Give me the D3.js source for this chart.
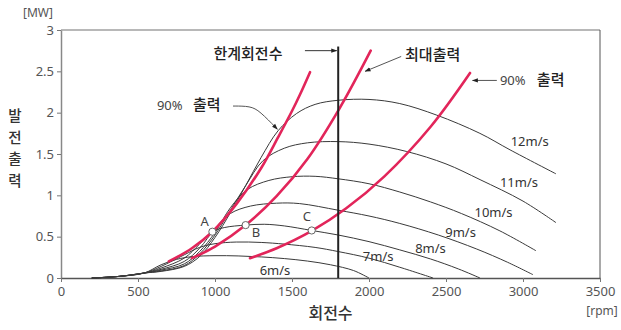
<!DOCTYPE html>
<html>
<head>
<meta charset="utf-8">
<script src="https://cdn.jsdelivr.net/npm/d3@7"></script>
<style>
  html, body { margin: 0; padding: 0; background: #fff; }
  svg { display: block; font-family: "Noto Sans CJK KR", "Noto Sans", sans-serif; }
  .latin { font-family: "Noto Sans", "DejaVu Sans", sans-serif; }
</style>
</head>
<body>
<svg id="chart" width="621" height="330"></svg>
<script>
// Axis ticks
const rpmTicks = [0, 500, 1000, 1500, 2000, 2500, 3000, 3500];
const mwTicks = [0, 0.5, 1, 1.5, 2, 2.5, 3];
const mwTickLabels = ["0", "0.5", "1", "1.5", "2", "2.5", "3"];

// Power vs. rotor speed, one curve per wind speed: [rpm, MW]
const windLabels = ["6m/s", "7m/s", "8m/s", "9m/s", "10m/s", "11m/s", "12m/s"];
const curve6 = [[200,0],[380,0.02],[540,0.06],[650,0.16],[750,0.225],[850,0.258],[1000,0.27],[1150,0.267],[1300,0.255],[1450,0.235],[1600,0.205],[1750,0.16],[1900,0.09],[2000,0]];
const curve7 = [[200,0],[380,0.02],[540,0.06],[650,0.14],[800,0.28],[900,0.37],[1000,0.415],[1138,0.435],[1300,0.43],[1450,0.41],[1650,0.37],[1800,0.32],[2000,0.24],[2200,0.13],[2416,0]];
const curve8 = [[200,0],[380,0.02],[540,0.06],[650,0.12],[800,0.24],[900,0.41],[983,0.56],[1060,0.61],[1199,0.64],[1320,0.65],[1450,0.63],[1628,0.575],[1800,0.52],[2000,0.44],[2200,0.34],[2400,0.23],[2580,0.11],[2721,0]];
const curve9 = [[200,0],[380,0.02],[540,0.06],[650,0.105],[800,0.2],[900,0.36],[1000,0.6],[1100,0.78],[1230,0.87],[1400,0.905],[1550,0.9],[1800,0.82],[2000,0.75],[2200,0.66],[2450,0.52],[2700,0.35],[2900,0.19],[3065,0.04]];
const curve10 = [[200,0],[380,0.02],[540,0.06],[650,0.095],[800,0.17],[900,0.32],[1000,0.55],[1100,0.85],[1210,1.07],[1350,1.18],[1500,1.225],[1650,1.23],[1800,1.2],[2000,1.14],[2200,1.04],[2400,0.92],[2600,0.78],[2850,0.57],[3084,0.33]];
const curve11 = [[200,0],[380,0.02],[540,0.06],[650,0.085],[800,0.15],[900,0.29],[1000,0.52],[1100,0.82],[1200,1.12],[1312,1.42],[1450,1.57],[1600,1.635],[1800,1.65],[2000,1.62],[2245,1.53],[2500,1.38],[2721,1.19],[3000,0.93],[3214,0.67]];
const curve12 = [[200,0],[380,0.02],[540,0.06],[650,0.08],[800,0.14],[900,0.26],[1000,0.49],[1100,0.79],[1200,1.12],[1300,1.46],[1409,1.78],[1530,1.99],[1650,2.1],[1800,2.15],[2000,2.16],[2200,2.11],[2440,1.97],[2720,1.75],[2916,1.55],[3214,1.26]];

// Operating loci: 90 % power (low side), maximum power, 90 % power (high side)
const left90 = [[700,0.2],[850,0.36],[983,0.56],[1141,0.9],[1303,1.34],[1409,1.7],[1500,2.02],[1552,2.22],[1617,2.49]];
const maxPower = [[850,0.24],[1000,0.38],[1199,0.64],[1400,0.99],[1600,1.44],[1808,2.05],[2011,2.75]];
const right90 = [[1227,0.24],[1400,0.36],[1628,0.57],[1850,0.84],[2100,1.23],[2400,1.83],[2656,2.48]];

// Marked operating points
const pointNames = ["A", "B", "C"];
const pointRpm = [983, 1199, 1628];
const pointMw = [0.56, 0.64, 0.575];

// Rotor speed limit
const limitRpm = 1800;

const svg = d3.select("#chart");
const x = d3.scaleLinear().domain([0, 3500]).range([61, 600]);
const y = d3.scaleLinear().domain([0, 3]).range([278, 30]);

const line = d3.line().x(d => x(d[0])).y(d => y(d[1])).curve(d3.curveCatmullRom.alpha(0.5));

// Frame
svg.append("line").attr("x1", x(0)).attr("x2", x(3500)).attr("y1", y(3)).attr("y2", y(3))
  .attr("stroke", "#b8b8b8").attr("stroke-width", 2);
svg.append("line").attr("x1", x(3500)).attr("x2", x(3500)).attr("y1", y(3)).attr("y2", y(0))
  .attr("stroke", "#555").attr("stroke-width", 1);

// Axes
const yAxis = svg.append("g").attr("transform", `translate(${x(0)},0)`)
  .call(d3.axisLeft(y).tickValues(mwTicks).tickFormat((d, i) => mwTickLabels[i]).tickSize(4).tickSizeOuter(0));
const xAxis = svg.append("g").attr("transform", `translate(0,${y(0)})`)
  .call(d3.axisBottom(x).tickValues(rpmTicks).tickFormat(d3.format("d")).tickSize(4).tickSizeOuter(0));
yAxis.select(".domain").attr("stroke", "#888").attr("stroke-width", 1.5);
xAxis.select(".domain").attr("stroke", "#555").attr("stroke-width", 1.5);
[yAxis, xAxis].forEach(a => {
  a.selectAll(".tick line").attr("stroke", "#777");
  a.selectAll(".tick text").attr("fill", "#555").attr("font-size", 13)
    .attr("font-family", "'Noto Sans', sans-serif");
});
yAxis.selectAll(".tick text").attr("x", -7);
xAxis.selectAll(".tick text").attr("y", 9);

// Units
svg.append("text").attr("class", "latin").attr("x", 38).attr("y", 16.5).attr("text-anchor", "middle")
  .attr("font-size", 12).attr("fill", "#555").text("[MW]");
svg.append("text").attr("class", "latin").attr("x", 602).attr("y", 315).attr("text-anchor", "middle")
  .attr("font-size", 12).attr("fill", "#555").text("[rpm]");

// Axis titles
svg.append("text").attr("x", x(1750)).attr("y", 319).attr("text-anchor", "middle")
  .attr("font-size", 16).attr("font-weight", 500).attr("fill", "#333").text("회전수");
const yTitle = "발전출력".split("");
svg.append("g").selectAll("text").data(yTitle).join("text")
  .attr("x", 15).attr("y", (d, i) => 121 + i * 21.5).attr("text-anchor", "middle")
  .attr("font-size", 14.5).attr("font-weight", 500).attr("fill", "#333").text(d => d);

// Wind-speed curves
const curves = [curve6, curve7, curve8, curve9, curve10, curve11, curve12];
svg.append("g").selectAll("path").data(curves).join("path")
  .attr("d", line).attr("fill", "none").attr("stroke", "#3a3a3a").attr("stroke-width", 1);

// Wind-speed labels, placed under the falling side of each curve
const labelRpm = [1290, 1960, 2300, 2495, 2685, 2850, 2920];
const labelMw = [0.04, 0.2, 0.3, 0.5, 0.74, 1.1, 1.6];
svg.append("g").attr("class", "latin").selectAll("text").data(windLabels).join("text")
  .attr("x", (d, i) => x(labelRpm[i])).attr("y", (d, i) => y(labelMw[i]))
  .attr("font-size", 13).attr("fill", "#333").text(d => d);

// Red loci
svg.append("g").selectAll("path").data([left90, maxPower, right90]).join("path")
  .attr("d", line).attr("fill", "none").attr("stroke", "#e2255a").attr("stroke-width", 2.6)
  .attr("stroke-linecap", "round");

// Rotor speed limit line
svg.append("line").attr("x1", x(limitRpm)).attr("x2", x(limitRpm)).attr("y1", y(0)).attr("y2", y(2.8))
  .attr("stroke", "#222").attr("stroke-width", 2);

// Operating points
svg.append("g").selectAll("circle").data(pointNames).join("circle")
  .attr("cx", (d, i) => x(pointRpm[i])).attr("cy", (d, i) => y(pointMw[i])).attr("r", 3.6)
  .attr("fill", "#fff").attr("stroke", "#666").attr("stroke-width", 1);
const pointDx = [-12, 6, -9];
const pointDy = [-6, 12, -9];
svg.append("g").attr("class", "latin").selectAll("text").data(pointNames).join("text")
  .attr("x", (d, i) => x(pointRpm[i]) + pointDx[i]).attr("y", (d, i) => y(pointMw[i]) + pointDy[i])
  .attr("font-size", 13).attr("fill", "#444").text(d => d);

// Arrowhead
const defs = svg.append("defs");
defs.append("marker").attr("id", "head").attr("viewBox", "0 0 10 10").attr("refX", 9).attr("refY", 5)
  .attr("markerWidth", 6).attr("markerHeight", 6).attr("orient", "auto")
  .append("path").attr("d", "M0,1.5 L10,5 L0,8.5 Z").attr("fill", "#222");

// Annotations
const ann = svg.append("g").attr("fill", "#222");
// limit speed
ann.append("text").attr("x", x(990)).attr("y", 59).attr("font-size", 15)
  .attr("font-weight", 500).text("한계회전수");
svg.append("line").attr("x1", x(1584)).attr("x2", x(1790)).attr("y1", y(2.75)).attr("y2", y(2.75))
  .attr("stroke", "#333").attr("stroke-width", 1).attr("marker-end", "url(#head)");
// maximum power
ann.append("text").attr("x", x(2234)).attr("y", 60).attr("font-size", 15).attr("font-weight", 500).text("최대출력");
svg.append("line").attr("x1", x(2209)).attr("y1", y(2.68)).attr("x2", x(1975)).attr("y2", y(2.5))
  .attr("stroke", "#555").attr("stroke-width", 1).attr("marker-end", "url(#head)");
// 90 % power, high side
ann.append("text").attr("class", "latin").attr("x", x(2850)).attr("y", 85).attr("font-size", 13).attr("fill", "#444").text("90%");
ann.append("text").attr("x", x(3090)).attr("y", 85).attr("font-size", 15).attr("font-weight", 500).text("출력");
svg.append("line").attr("x1", x(2830)).attr("x2", x(2672)).attr("y1", y(2.39)).attr("y2", y(2.39))
  .attr("stroke", "#555").attr("stroke-width", 1).attr("marker-end", "url(#head)");
// 90 % power, low side
ann.append("text").attr("class", "latin").attr("x", x(623)).attr("y", 110).attr("font-size", 13).attr("fill", "#444").text("90%");
ann.append("text").attr("x", x(857)).attr("y", 110).attr("font-size", 15).attr("font-weight", 500).text("출력");
const leader = [[1117, 2.08], [1230, 2.08], [1290, 2.02], [1405, 1.8]];
svg.append("path")
  .attr("d", d3.line().x(d => x(d[0])).y(d => y(d[1])).curve(d3.curveBasis)(leader))
  .attr("fill", "none").attr("stroke", "#555").attr("stroke-width", 1).attr("marker-end", "url(#head)");
</script>
</body>
</html>
